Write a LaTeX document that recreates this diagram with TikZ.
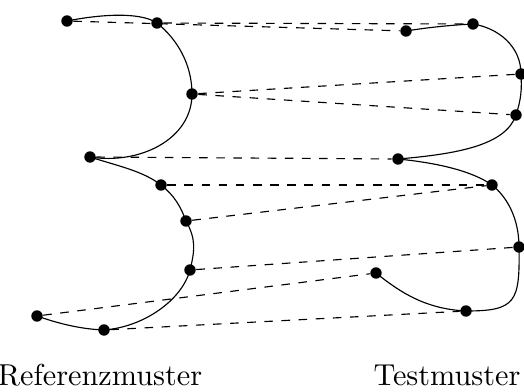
\documentclass[tikz,border=0pt]{standalone}
\usetikzlibrary{arrows.meta}

\begin{document}
\begin{tikzpicture}[x=0.35pt, y=-0.35pt,
    dot/.style={circle, fill, inner sep=0pt, minimum size=4pt},
    match/.style={dashed},
    patname/.style={anchor=base, inner sep=0pt, font=\fontsize{10.6}{12}\selectfont}]
    \useasboundingbox (0,0) rectangle (524,392);

    % Points of the reference pattern (left)
    \node[dot] (p1) at (67,21) {};
    \node[dot] (p2) at (157,23) {};
    \node[dot] (p3) at (192,94) {};
    \node[dot] (p4) at (90,157) {};
    \node[dot] (p5) at (161,185) {};
    \node[dot] (p6) at (186,221) {};
    \node[dot] (p7) at (190,270) {};
    \node[dot] (p8) at (104,330) {};
    \node[dot] (p9) at (37,316) {};

    % Points of the test pattern (right)
    \node[dot] (q1) at (406,31) {};
    \node[dot] (q2) at (473,24) {};
    \node[dot] (q3) at (521,74) {};
    \node[dot] (q4) at (516,115) {};
    \node[dot] (q5) at (398,159) {};
    \node[dot] (q6) at (492,185) {};
    \node[dot] (q7) at (519,247) {};
    \node[dot] (q8) at (466,311) {};
    \node[dot] (q9) at (376,273) {};

    % Reference curve
    \draw (p1.center) .. controls +(30,-6) and +(-18,-12) .. (p2.center)
        .. controls +(20,16) and +(0,-30) .. (p3.center)
        .. controls +(0,45) and +(50,8) .. (p4.center);
    \draw (p4.center) .. controls +(28,9) and +(-18,-14) .. (p5.center)
        .. controls +(13,10) and +(-5,-14) .. (p6.center)
        .. controls +(10,18) and +(5,-20) .. (p7.center)
        .. controls +(-8,30) and +(40,-3) .. (p8.center)
        .. controls +(-25,-1) and +(20,7) .. (p9.center);

    % Test curve
    \draw (q1.center) .. controls +(25,-4) and +(-20,1) .. (q2.center)
        .. controls +(25,4) and +(0,-28) .. (q3.center)
        .. controls +(1,15) and +(5,-15) .. (q4.center)
        .. controls +(-10,30) and +(60,-5) .. (q5.center);
    \draw (q5.center) .. controls +(40,4) and +(-20,-14) .. (q6.center)
        .. controls +(14,11) and +(0,-30) .. (q7.center)
        .. controls +(1,55) and +(50,0) .. (q8.center)
        .. controls +(-40,-2) and +(25,20) .. (q9.center);

    % Matching between the two patterns
    \draw[match] (p1) -- (q1);
    \draw[match] (p2) -- (q2);
    \draw[match] (p3) -- (q3);
    \draw[match] (p3) -- (q4);
    \draw[match] (p4) -- (q5);
    \draw[match] (p5) -- (q6);
    \draw[match] (p6) -- (q6);
    \draw[match] (p7) -- (q7);
    \draw[match] (p8) -- (q8);
    \draw[match] (p9) -- (q9);

    % Labels
    \node[patname] (reflabel) at (100,386) {Referenzmuster};
    \node[patname] (testlabel) at (447,386) {Testmuster};
\end{tikzpicture}
\end{document}
